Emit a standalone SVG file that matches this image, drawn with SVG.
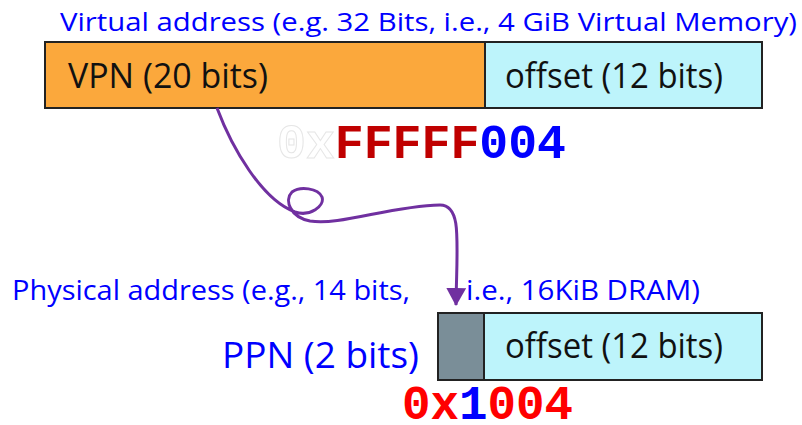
<svg xmlns="http://www.w3.org/2000/svg" width="802" height="425" viewBox="0 0 802 425">
<style>
.lbl{font-family:"Open Sans","Noto Sans",sans-serif;fill:#0000ff}
.in{font-family:"Open Sans","Noto Sans",sans-serif;fill:#111}
.hex{font-family:"Liberation Mono","DejaVu Sans Mono",monospace;font-weight:bold;font-size:48px}
.box{stroke:#222;stroke-width:2}
</style>
<defs>
<marker id="ah" viewBox="0 0 18 20" refX="17" refY="10" markerWidth="18" markerHeight="20" markerUnits="userSpaceOnUse" orient="auto">
<path d="M0,0 L18,10 L0,20 Z" fill="#7030a0"/>
</marker>
</defs>
<rect width="802" height="425" fill="#fff"/>
<g id="virtual">
<text class="lbl" x="60" y="31" font-size="26" textLength="737" lengthAdjust="spacingAndGlyphs">Virtual address (e.g. 32 Bits, i.e., 4 GiB Virtual Memory)</text>
<rect class="box" x="45" y="42" width="440" height="66" fill="#fba83c"/>
<rect class="box" x="485" y="42" width="277" height="66" fill="#bdf4fb"/>
<text class="in" x="68" y="88" font-size="34" textLength="200" lengthAdjust="spacingAndGlyphs">VPN (20 bits)</text>
<text class="in" x="505" y="88" font-size="34" textLength="218" lengthAdjust="spacingAndGlyphs">offset (12 bits)</text>
</g>
<g id="vhex">
<text class="hex" x="277" y="158" textLength="289" lengthAdjust="spacingAndGlyphs"><tspan fill="#fff" stroke="#e6e6e6" stroke-width="1">0x</tspan><tspan fill="#c00000">FFFFF</tspan><tspan fill="#0000ff">004</tspan></text>
</g>
<g id="physical">
<text class="lbl" x="12" y="300" font-size="28" textLength="398" lengthAdjust="spacingAndGlyphs">Physical address (e.g., 14 bits,</text>
<text class="lbl" x="466" y="300" font-size="28" textLength="234" lengthAdjust="spacingAndGlyphs">i.e., 16KiB DRAM)</text>
<text class="lbl" x="222" y="368" font-size="37" textLength="197" lengthAdjust="spacingAndGlyphs">PPN (2 bits)</text>
<rect class="box" x="438" y="313" width="46" height="67" fill="#7a8e98"/>
<rect class="box" x="484" y="313" width="278" height="67" fill="#bdf4fb"/>
<text class="in" x="505" y="358" font-size="34" textLength="218" lengthAdjust="spacingAndGlyphs">offset (12 bits)</text>
</g>
<g id="phex">
<text class="hex" x="402" y="419" textLength="171" lengthAdjust="spacingAndGlyphs"><tspan fill="#ff0000">0x</tspan><tspan fill="#0000ff">1</tspan><tspan fill="#ff0000">004</tspan></text>
</g>
<g id="connectors">
<path d="M217,108 C232,148 262,200 295,212 C310,217 325,206 322,197 C318,188 300,186 292,192 C284,200 290,217 310,221 C340,226 390,206 440,205 C462,205 457,240 456,305" fill="none" stroke="#7030a0" stroke-width="3" marker-end="url(#ah)"/>
</g>
</svg>
